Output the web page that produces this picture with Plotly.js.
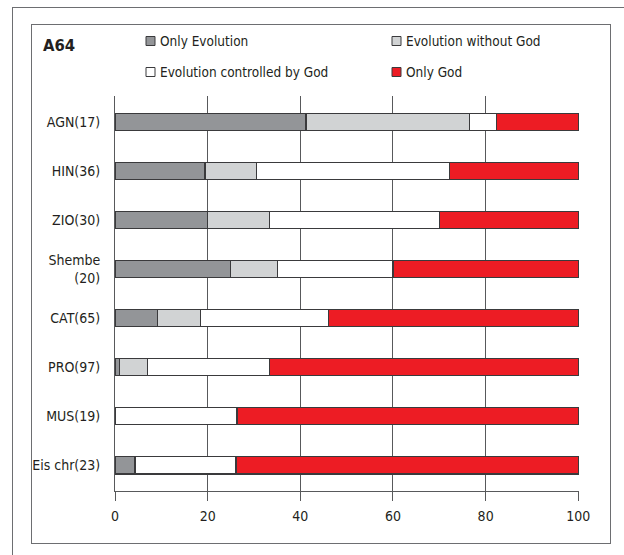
<!DOCTYPE html>
<html>
<head>
<meta charset="utf-8">
<script src="https://cdn.plot.ly/plotly-3.0.1.min.js"></script>
<style>
  html, body { margin: 0; padding: 0; background: #fff; }
  #wrap { position: relative; width: 624px; height: 555px; overflow: hidden; background: #fff; }
  #outer { position: absolute; left: 12px; top: 7px; width: 700px; height: 700px; border: 1px solid #6d6e71; }
  #inner { position: absolute; left: 31px; top: 24px; width: 578px; height: 518px; border: 1px solid #6d6e71; }
  #chart { position: absolute; left: 0; top: 0; width: 624px; height: 555px; }
</style>
</head>
<body>
<div id="wrap">
  <div id="outer"></div>
  <div id="inner"></div>
  <div id="chart"></div>
</div>
<script>
const categories = ["AGN(17)", "HIN(36)", "ZIO(30)", "Shembe<br>(20)", "CAT(65)", "PRO(97)", "MUS(19)", "Eis chr(23)"];
const seriesNames = ["Only Evolution", "Evolution without God", "Evolution controlled by God", "Only God"];
const onlyEvolution = [41.2, 19.4, 20.0, 25.0, 9.2, 1.0, 0.0, 4.3];
const evolutionWithoutGod = [35.3, 11.1, 13.3, 10.0, 9.2, 6.0, 0.0, 0.0];
const evolutionControlledByGod = [5.9, 41.7, 36.7, 25.0, 27.7, 26.4, 26.3, 21.8];
const onlyGod = [17.6, 27.8, 30.0, 40.0, 53.9, 66.6, 73.7, 73.9];
const xTicks = [0, 20, 40, 60, 80, 100];
const chartTitle = "A64";

const colors = ["#939598", "#d1d3d4", "#ffffff", "#ed1c24"];
const values = [onlyEvolution, evolutionWithoutGod, evolutionControlledByGod, onlyGod];
const FONT = "'Liberation Sans Narrow', 'Arial Narrow', 'DejaVu Sans Condensed', sans-serif";

const traces = values.map((v, i) => ({
  type: "bar",
  orientation: "h",
  name: seriesNames[i],
  y: categories,
  x: v,
  marker: { color: colors[i], line: { color: "#3a3a3c", width: 1.3 } },
  width: 0.36,
  hoverinfo: "x+name"
}));

// plot area: x 115..579, y 96..491
const L = 115, R = 579, T = 96, B = 491;
const px = x => (x - L) / (R - L);
const py = y => (B - y) / (B - T);

const legendPos = [
  { mx: 146, tx: 158, cy: 41 },
  { mx: 392, tx: 404, cy: 41 },
  { mx: 146, tx: 158, cy: 72 },
  { mx: 392, tx: 404, cy: 72 }
];

const shapes = legendPos.map((p, i) => ({
  type: "rect", xref: "paper", yref: "paper",
  x0: px(p.mx), x1: px(p.mx + 9), y0: py(p.cy - 4.5), y1: py(p.cy + 4.5),
  fillcolor: colors[i], line: { color: "#3a3a3c", width: 1 }
}));

const annotations = legendPos.map((p, i) => ({
  xref: "paper", yref: "paper", x: px(p.tx), y: py(p.cy),
  xanchor: "left", yanchor: "middle", showarrow: false,
  text: seriesNames[i], font: { family: FONT, size: 13.5, color: "#231f20" }
}));

const layout = {
  width: 624, height: 555,
  margin: { l: L, r: 624 - R, t: T, b: 555 - B, pad: 0 },
  paper_bgcolor: "rgba(0,0,0,0)",
  plot_bgcolor: "rgba(0,0,0,0)",
  title: {
    text: "<b>" + chartTitle + "</b>",
    x: 43 / 624, xanchor: "left", xref: "container",
    y: 1 - 45 / 555, yanchor: "middle", yref: "container",
    font: { family: FONT, size: 16.5, color: "#231f20" }
  },
  showlegend: false,
  barmode: "stack",
  xaxis: {
    range: [0, 100.15],
    tickvals: xTicks,
    ticktext: xTicks.map(String),
    showgrid: true, gridcolor: "#58595b", gridwidth: 1,
    zeroline: false,
    showline: true, linecolor: "#58595b", linewidth: 1,
    ticks: "outside", ticklen: 9, tickcolor: "#58595b", tickwidth: 1,
    ticklabelstandoff: 3,
    tickfont: { family: FONT, size: 14, color: "#231f20" },
    fixedrange: true
  },
  yaxis: {
    type: "category",
    categoryorder: "array", categoryarray: categories,
    range: [7.53, -0.53],
    showgrid: false, zeroline: false,
    showline: true, linecolor: "#58595b", linewidth: 1,
    ticks: "", ticklabelstandoff: 11,
    tickfont: { family: FONT, size: 14, color: "#231f20" },
    fixedrange: true
  },
  shapes: shapes,
  annotations: annotations
};

Plotly.newPlot("chart", traces, layout, { displayModeBar: false, staticPlot: true });
</script>
</body>
</html>
